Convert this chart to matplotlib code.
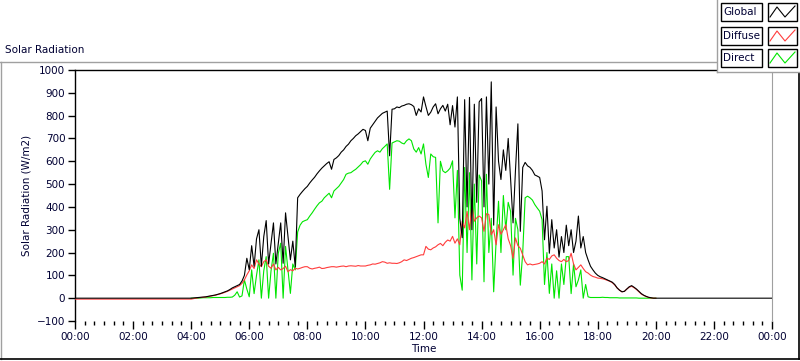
import numpy as np
import matplotlib
matplotlib.use("Agg")
import matplotlib.pyplot as plt
from matplotlib.lines import Line2D
from matplotlib.patches import Rectangle
from matplotlib.ticker import MultipleLocator, FuncFormatter

# daytime samples every 5 minutes, 04:00 .. 20:00 (W/m2)
day_start = 4.0
step_h = 5 / 60

global_w = [
    0, 1, 2, 3, 4, 5, 6, 8, 10, 12, 14, 17,                          # 04
    20, 24, 28, 32, 38, 45, 50, 55, 60, 75, 100, 175,                # 05
    125, 230, 140, 260, 300, 140, 270, 340, 150, 240, 330, 150,      # 06
    240, 330, 153, 374, 271, 168, 250, 138, 440, 455, 468, 480,      # 07
    490, 505, 518, 530, 545, 558, 570, 580, 590, 598, 565, 608,      # 08
    615, 625, 640, 650, 665, 675, 690, 700, 712, 720, 730, 740,      # 09
    735, 690, 745, 760, 775, 790, 800, 810, 815, 820, 624, 828,      # 10
    830, 838, 835, 842, 845, 850, 852, 848, 840, 801, 830, 816,      # 11
    882, 840, 801, 815, 838, 852, 808, 830, 845, 820, 850, 760,      # 12
    844, 750, 882, 350, 265, 870, 400, 880, 300, 850, 420, 860,      # 13
    875, 400, 882, 500, 948, 320, 838, 600, 520, 650, 560, 700,      # 14
    520, 330, 560, 764, 293, 573, 595, 580, 573, 560, 540, 535,      # 15
    529, 470, 256, 403, 197, 344, 220, 300, 180, 270, 200, 320,      # 16
    230, 300, 200, 250, 360, 220, 270, 200, 168, 140, 124, 110,      # 17
    100, 94, 90, 85, 80, 75, 70, 60, 45, 35, 28, 30,                 # 18
    40, 50, 55, 48, 40, 30, 20, 13, 8, 4, 2, 0,                      # 19
    0,                                                               # 20
]

diffuse_w = [
    -4, -2, 0, 2, 3, 4, 5, 7, 9, 11, 13, 16,                         # 04
    19, 22, 26, 30, 35, 40, 45, 50, 55, 65, 80, 102,                 # 05
    120, 146, 130, 168, 150, 138, 160, 168, 140, 131, 150, 124,      # 06
    135, 124, 130, 140, 116, 125, 120, 131, 128, 131, 135, 138,      # 07
    138, 131, 128, 131, 133, 136, 130, 131, 134, 136, 138, 138,      # 08
    136, 138, 140, 141, 138, 141, 142, 141, 140, 143, 141, 141,      # 09
    141, 144, 146, 150, 149, 152, 155, 160, 158, 153, 155, 153,      # 10
    153, 152, 155, 160, 168, 165, 170, 175, 178, 182, 186, 190,      # 11
    190, 227, 215, 212, 220, 225, 234, 240, 230, 245, 255, 250,      # 12
    271, 241, 260, 234, 337, 308, 380, 300, 411, 337, 352, 360,      # 13
    352, 293, 370, 367, 278, 300, 234, 322, 280, 300, 322, 260,      # 14
    230, 175, 264, 230, 219, 190, 160, 146, 150, 146, 148, 150,      # 15
    153, 160, 150, 175, 170, 185, 190, 175, 165, 160, 170, 160,      # 16
    165, 197, 150, 124, 135, 146, 130, 116, 110, 101, 95, 92,        # 17
    88, 87, 85, 82, 78, 74, 68, 58, 45, 35, 28, 30,                  # 18
    40, 48, 52, 46, 38, 28, 18, 12, 7, 3, 1, 0,                      # 19
    0,                                                               # 20
]

direct_w = [
    0, 0, 0, 0, 1, 2, 2, 2, 2, 3, 3, 3,                              # 04
    3, 3, 3, 4, 4, 5, 13, 28, 5, 10, 80, 40,                         # 05
    6, 124, 20, 100, 168, 0, 120, 182, 0, 120, 197, 0,               # 06
    197, 241, 0, 227, 124, 21, 150, 124, 290, 320, 335, 340,         # 07
    344, 360, 374, 390, 405, 418, 425, 440, 450, 460, 440, 470,      # 08
    480, 490, 505, 520, 543, 548, 550, 558, 565, 575, 585, 598,      # 09
    602, 587, 610, 625, 639, 646, 640, 655, 665, 676, 477, 680,      # 10
    685, 690, 688, 680, 676, 690, 698, 690, 654, 640, 660, 632,      # 11
    676, 587, 529, 632, 620, 617, 330, 600, 558, 550, 558, 570,      # 12
    602, 352, 560, 101, 35, 573, 200, 550, 80, 500, 150, 540,        # 13
    514, 72, 543, 200, 350, 28, 249, 425, 200, 450, 300, 420,        # 14
    380, 101, 350, 300, 57, 200, 440, 447, 440, 430, 410, 395,       # 15
    381, 344, 60, 200, 21, 150, 0, 120, 0, 150, 60, 182,             # 16
    182, 20, 150, 50, 80, 124, 0, 60, 6, 3, 3, 3,                    # 17
    3, 3, 4, 3, 3, 2, 2, 2, 2, 1, 1, 1,                              # 18
    1, 1, 1, 1, 1, 0, 0, 0, 0, 0, 0, 0,                              # 19
    0,                                                               # 20
]

# night values (before 04:00 and after 20:00)
global_night = 0
diffuse_night = -4

series_names = ["Global", "Diffuse", "Direct"]
series_colors = ["#000000", "#ff3c3c", "#00e600"]
text_color = "#000033"

day_t = day_start + step_h * np.arange(len(global_w))
g_t = np.concatenate([[0.0], day_t, [24.0]])
g_v = np.concatenate([[global_night], global_w, [global_night]])
d_t = np.concatenate([[0.0], day_t])
d_v = np.concatenate([[diffuse_night], diffuse_w])

W, H = 800, 361
fig = plt.figure(figsize=(W / 100, H / 100), dpi=100)
fig.patch.set_facecolor("white")


def fx(px):
    return px / W


def fy(py):
    return 1 - py / H


ax = fig.add_axes([fx(75), fy(321), fx(772) - fx(75), fy(70) - fy(321)])
ax.plot(day_t, direct_w, color=series_colors[2], lw=0.8, zorder=2)
ax.plot(d_t, d_v, color=series_colors[1], lw=0.8, zorder=3)
ax.plot(g_t, g_v, color=series_colors[0], lw=0.8, zorder=4)

ax.set_xlim(0, 24)
ax.set_ylim(-100, 1000)
ax.xaxis.set_major_locator(MultipleLocator(2))
ax.xaxis.set_minor_locator(MultipleLocator(1 / 3))
ax.xaxis.set_major_formatter(FuncFormatter(lambda v, p: "%02d:00" % (int(round(v)) % 24)))
ax.yaxis.set_major_locator(MultipleLocator(100))
ax.tick_params(axis="x", which="major", length=6, width=1, color="black",
               labelsize=7.5, labelcolor=text_color, pad=2)
ax.tick_params(axis="x", which="minor", length=3, width=1, color="black")
ax.tick_params(axis="y", which="major", length=5, width=1, color="black",
               labelsize=7.5, labelcolor=text_color, pad=2)
for s in ["left", "top"]:
    ax.spines[s].set_color("black")
    ax.spines[s].set_linewidth(1)
ax.spines["right"].set_color("#a0a0a0")
ax.spines["bottom"].set_visible(False)
ax.set_xlabel("Time", fontsize=7.5, color=text_color, labelpad=1)
ax.set_ylabel("Solar Radiation (W/m2)", fontsize=7.5, color=text_color, labelpad=4)

# graph frame
fig.text(fx(5), fy(50), "Solar Radiation", fontsize=7.5, color=text_color, va="center")
fig.add_artist(Line2D([0, fx(717)], [fy(62), fy(62)], color="#a0a0a0", lw=1))
fig.add_artist(Line2D([fx(0.5), fx(0.5)], [fy(62), fy(359)], color="#a0a0a0", lw=1))
fig.add_artist(Line2D([0, 1], [fy(359), fy(359)], color="black", lw=1.2))
fig.add_artist(Line2D([fx(799), fx(799)], [fy(72), fy(359)], color="black", lw=1.2))

# legend panel
fig.add_artist(Rectangle((fx(717), fy(72)), 1 - fx(717), fy(0) - fy(72),
                         facecolor="white", edgecolor="none", zorder=5))
fig.add_artist(Line2D([fx(717), fx(717)], [fy(0), fy(72)], color="#a0a0a0", lw=1, zorder=6))
fig.add_artist(Line2D([fx(717), 1], [fy(72), fy(72)], color="#a0a0a0", lw=1, zorder=6))
row_tops = [3, 27, 49]
for name, col, top in zip(series_names, series_colors, row_tops):
    fig.add_artist(Rectangle((fx(721), fy(top + 18)), fx(762) - fx(721), fy(top) - fy(top + 18),
                             facecolor="white", edgecolor="black", lw=1, zorder=6))
    fig.text(fx(723), fy(top + 9), name, fontsize=7.5, color=text_color, va="center", zorder=7)
    fig.add_artist(Rectangle((fx(768), fy(top + 18)), fx(797) - fx(768), fy(top) - fy(top + 18),
                             facecolor="white", edgecolor="black", lw=1, zorder=6))
    zx = [fx(770), fx(777), fx(785), fx(795)]
    zy = [fy(top + 14), fy(top + 4), fy(top + 14), fy(top + 3)]
    fig.add_artist(Line2D(zx, zy, color=col, lw=0.8, zorder=7))

fig.savefig("out.png", dpi=100)
